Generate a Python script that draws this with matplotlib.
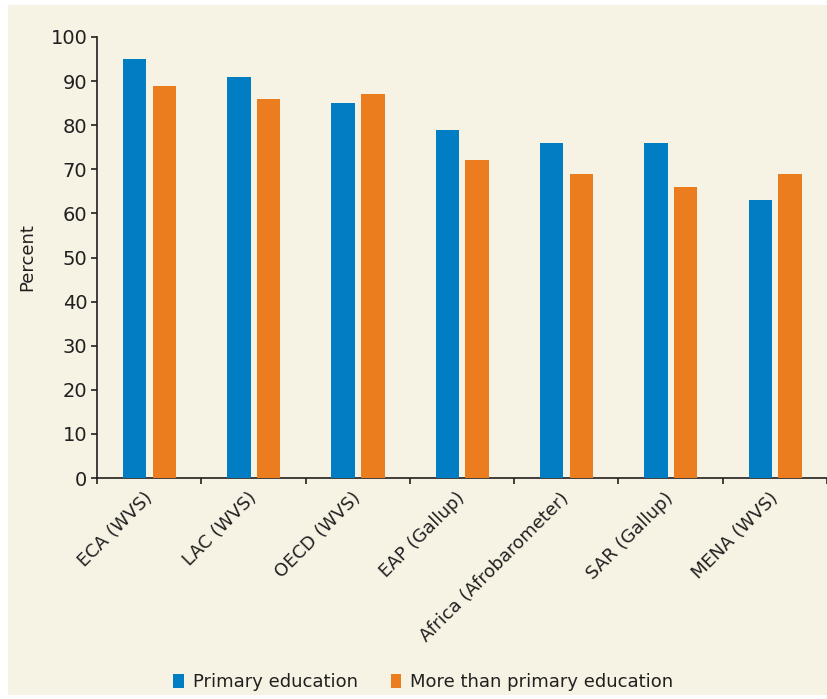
import numpy as np
import matplotlib.pyplot as plt
import matplotlib.transforms as mtransforms
from matplotlib.patches import Rectangle

regions = ['ECA (WVS)', 'LAC (WVS)', 'OECD (WVS)', 'EAP (Gallup)',
           'Africa (Afrobarometer)', 'SAR (Gallup)', 'MENA (WVS)']
primary = [95, 91, 85, 79, 76, 76, 63]
more_than_primary = [89, 86, 87, 72, 69, 66, 69]
yticks = [0, 10, 20, 30, 40, 50, 60, 70, 80, 90, 100]

blue = '#007DC3'
orange = '#EB7D1E'
cream = '#F6F2E4'
ink = '#231F20'

plt.rcParams['font.family'] = ['DejaVu Sans']

fig = plt.figure(figsize=(8.27, 6.99), dpi=100)
bg = Rectangle((8 / 827, 4 / 699), 1 - 8 / 827, 1 - 9 / 699,
               transform=fig.transFigure, facecolor=cream,
               edgecolor='none', zorder=-10)
fig.add_artist(bg)

ax = fig.add_axes([97 / 827, 1 - 478 / 699, 1 - 97 / 827, (478 - 37) / 699])
ax.set_facecolor(cream)

x = np.arange(len(regions))
w = 0.225
ax.bar(x - 0.14, primary, w, color=blue, label='Primary education', zorder=3)
ax.bar(x + 0.145, more_than_primary, w, color=orange,
       label='More than primary education', zorder=3)

ax.set_ylim(0, 100)
ax.set_xlim(-0.5, -0.5 + 730 / 105.25)
ax.set_yticks(yticks)
ax.tick_params(axis='y', labelsize=14, colors=ink, length=4, width=1.2, pad=3)

ax.set_xticks(np.arange(len(regions) + 1) - 0.5)
ax.set_xticklabels([])
ax.set_xticks(x, minor=True)
ax.set_xticklabels(regions, minor=True, rotation=45, ha='right',
                   rotation_mode='anchor', fontsize=13, color=ink)
ax.tick_params(axis='x', which='major', length=4, width=1.2, color=ink)
ax.tick_params(axis='x', which='minor', length=0, pad=8)

# nudge the slanted labels a little to the left
shift = mtransforms.ScaledTranslation(-6 / 100, 0, fig.dpi_scale_trans)
for lab in ax.get_xticklabels(minor=True):
    lab.set_transform(lab.get_transform() + shift)

for s in ['top', 'right']:
    ax.spines[s].set_visible(False)
for s in ['left', 'bottom']:
    ax.spines[s].set_color(ink)
    ax.spines[s].set_linewidth(1.2)

ax.set_ylabel('Percent', fontsize=13, color=ink, labelpad=10)

fig.legend(loc='center', bbox_to_anchor=(0.512, 1 - 682 / 699), ncol=2,
           frameon=False, fontsize=13, handlelength=0.6, handleheight=0.8,
           handletextpad=0.5, columnspacing=1.8, labelcolor=ink)

fig.savefig('out.png', dpi=100, facecolor='white')
